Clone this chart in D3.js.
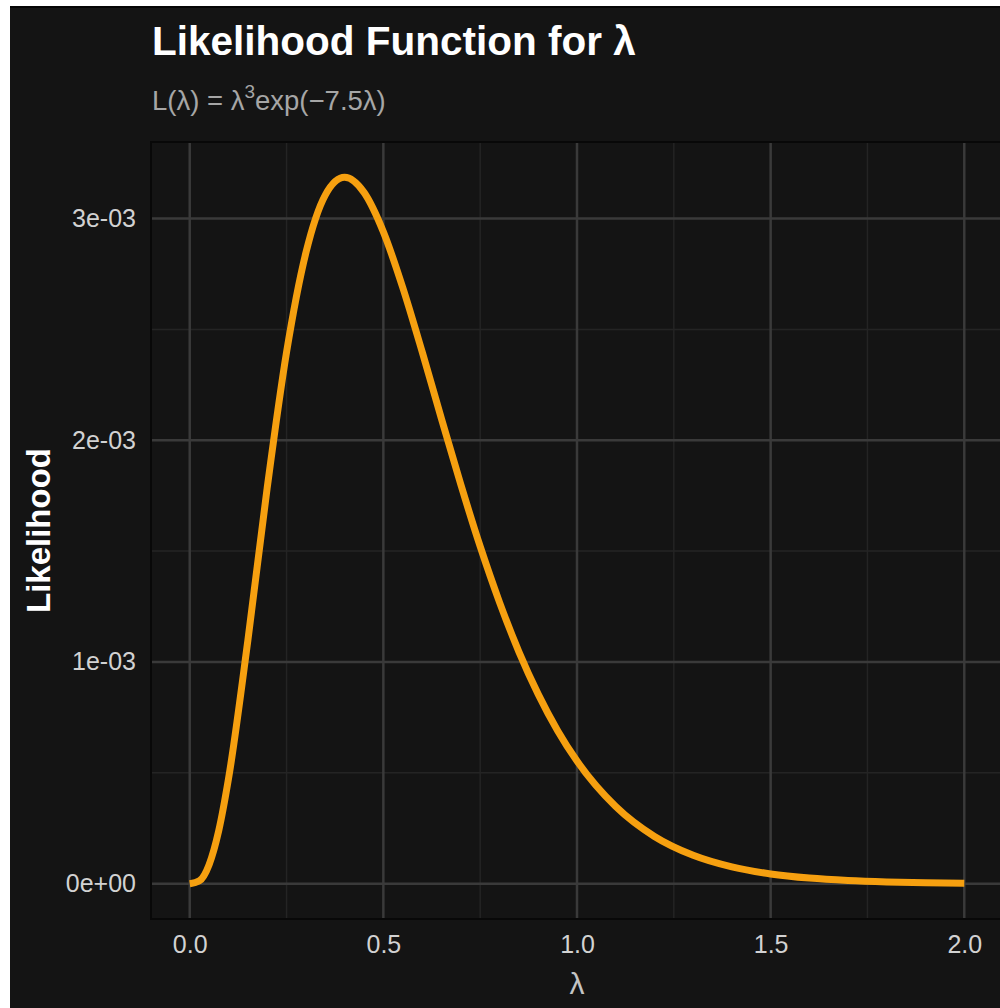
<!DOCTYPE html>
<html>
<head>
<meta charset="utf-8">
<script src="https://cdn.jsdelivr.net/npm/d3@7"></script>
<style>
  body { margin: 0; background: #fff; }
  svg { display: block; }
</style>
</head>
<body>
<svg id="chart" width="1000" height="1008"></svg>
<script>
// values
var lambda = [0, 0.025, 0.05, 0.075, 0.1, 0.15, 0.2, 0.25, 0.3, 0.35, 0.4, 0.45, 0.5, 0.55, 0.6, 0.65, 0.7, 0.75, 0.8, 0.85, 0.9, 0.95, 1.0, 1.1, 1.2, 1.3, 1.4, 1.5, 1.6, 1.7, 1.8, 1.9, 2.0];
var likelihood = [0, 0.0000130, 0.0000859, 0.000240, 0.000472, 0.001096, 0.001785, 0.002397, 0.002846, 0.003106, 0.003186, 0.003118, 0.002940, 0.002689, 0.002400, 0.002097, 0.001800, 0.001521, 0.001269, 0.001046, 0.000854, 0.000690, 0.000553, 0.000348, 0.000213, 0.000128, 0.0000756, 0.0000439, 0.0000252, 0.0000143, 0.0000080, 0.0000044, 0.0000024];
var xTicks = [0, 0.5, 1.0, 1.5, 2.0];
var xMinor = [0.25, 0.75, 1.25, 1.75];
var yTicks = [0, 0.001, 0.002, 0.003];
var yMinor = [0.0005, 0.0015, 0.0025];
var yTickLabels = ["0e+00", "1e-03", "2e-03", "3e-03"];

var svg = d3.select("#chart");
var W = 1000, H = 1008;
var panel = {left: 151, top: 142, right: 1003, bottom: 919};
var font = "'Liberation Sans', Arial, sans-serif";

// dark plot background, white strip on the left and top
svg.append("rect").attr("x", 10).attr("y", 6).attr("width", W - 10).attr("height", H - 6)
  .attr("fill", "#141414");
svg.append("rect").attr("x", 10).attr("y", 6).attr("width", W - 10).attr("height", 2)
  .attr("fill", "#050505");

var x = d3.scaleLinear().domain([-0.1, 2.1]).range([panel.left, panel.right]);
var yMax = d3.max(likelihood);
var pad = yMax * 0.05;
var y = d3.scaleLinear().domain([-pad, yMax + pad]).range([panel.bottom, panel.top]);

var g = svg.append("g");

g.append("rect")
  .attr("x", panel.left).attr("y", panel.top)
  .attr("width", panel.right - panel.left).attr("height", panel.bottom - panel.top)
  .attr("fill", "#141414").attr("stroke", "#080808").attr("stroke-width", 2);

// minor grid
g.selectAll(".xminor").data(xMinor).enter().append("line")
  .attr("x1", d => x(d)).attr("x2", d => x(d))
  .attr("y1", panel.top + 1).attr("y2", panel.bottom - 1)
  .attr("stroke", "#242424").attr("stroke-width", 1.5);
g.selectAll(".yminor").data(yMinor).enter().append("line")
  .attr("y1", d => y(d)).attr("y2", d => y(d))
  .attr("x1", panel.left + 1).attr("x2", panel.right)
  .attr("stroke", "#242424").attr("stroke-width", 1.5);

// major grid
g.selectAll(".xmajor").data(xTicks).enter().append("line")
  .attr("x1", d => x(d)).attr("x2", d => x(d))
  .attr("y1", panel.top + 1).attr("y2", panel.bottom - 1)
  .attr("stroke", "#3a3a3a").attr("stroke-width", 2.5);
g.selectAll(".ymajor").data(yTicks).enter().append("line")
  .attr("y1", d => y(d)).attr("y2", d => y(d))
  .attr("x1", panel.left + 1).attr("x2", panel.right)
  .attr("stroke", "#3a3a3a").attr("stroke-width", 2.5);

// the curve
var line = d3.line()
  .x((d, i) => x(lambda[i]))
  .y(d => y(d))
  .curve(d3.curveMonotoneX);

g.append("path")
  .datum(likelihood)
  .attr("d", line)
  .attr("fill", "none")
  .attr("stroke", "#F6A010")
  .attr("stroke-width", 7)
  .attr("stroke-linecap", "butt");

// axes (labels only, ticks hidden)
var xAxis = d3.axisBottom(x).tickValues(xTicks).tickFormat(d3.format(".1f")).tickSize(0).tickPadding(16);
var yAxis = d3.axisLeft(y).tickValues(yTicks).tickFormat((d, i) => yTickLabels[i]).tickSize(0).tickPadding(15);

var ax = svg.append("g").attr("transform", "translate(0," + panel.bottom + ")").call(xAxis);
var ay = svg.append("g").attr("transform", "translate(" + panel.left + ",0)").call(yAxis);
[ax, ay].forEach(function(a) {
  a.select(".domain").remove();
  a.selectAll("text")
    .attr("fill", "#d2d2d2")
    .style("font-family", font)
    .style("font-size", "25px");
});

// titles
svg.append("text").attr("x", 152).attr("y", 55)
  .attr("fill", "#ffffff").style("font-family", font)
  .style("font-size", "40.5px").style("font-weight", "bold")
  .text("Likelihood Function for λ");

var sub = svg.append("text").attr("x", 152).attr("y", 110)
  .attr("fill", "#a6a6a6").style("font-family", font).style("font-size", "27.5px")
  .attr("xml:space", "preserve");
sub.append("tspan").text("L(λ) = λ");
sub.append("tspan").attr("dy", -12).style("font-size", "19px").text("3");
sub.append("tspan").attr("dy", 12).text("exp(\u22127.5λ)");

svg.append("text")
  .attr("x", x(1.0)).attr("y", 994)
  .attr("text-anchor", "middle")
  .attr("fill", "#c4c4c4").style("font-family", font).style("font-size", "30px")
  .text("λ");

svg.append("text")
  .attr("transform", "translate(50," + ((panel.top + panel.bottom) / 2) + ") rotate(-90)")
  .attr("text-anchor", "middle")
  .attr("fill", "#ffffff").style("font-family", font)
  .style("font-size", "33px").style("font-weight", "bold")
  .text("Likelihood");
</script>
</body>
</html>
